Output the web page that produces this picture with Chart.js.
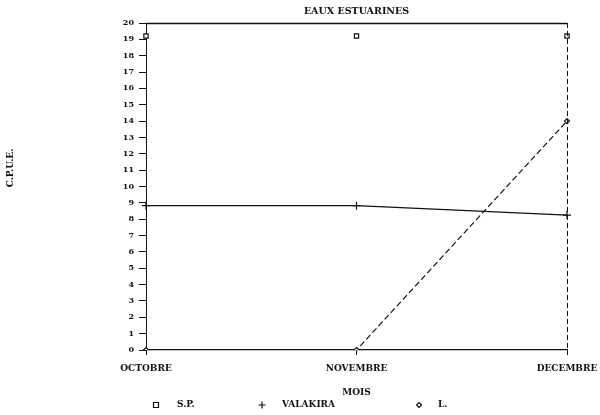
<!DOCTYPE html>
<html>
<head>
<meta charset="utf-8">
<script src="https://cdn.jsdelivr.net/npm/chart.js@4/dist/chart.umd.min.js"></script>
<style>
html,body{margin:0;padding:0;background:#fff;}
#c{display:block;}
</style>
</head>
<body>
<canvas id="c" width="600" height="415"></canvas>
<script>
const months = ['OCTOBRE', 'NOVEMBRE', 'DECEMBRE'];
const spValues = [19.2, 19.2, 19.2];
const valakiraValues = [8.83, 8.83, 8.25];
const lValues = [0, 0, 14];
const yMin = 0, yMax = 20, yStep = 1;
const titleText = 'EAUX ESTUARINES';
const xTitle = 'MOIS';
const yTitle = 'C.P.U.E.';

const FONT = '"DejaVu Serif", "Liberation Serif", serif';
const INK = '#111';

function drawSymbol(ctx, style, x, y, r) {
  ctx.save();
  ctx.strokeStyle = INK; ctx.lineWidth = 1.2; ctx.setLineDash([]);
  ctx.beginPath();
  if (style === 'rect') { ctx.fillStyle = '#fff'; ctx.rect(x - r, y - r, 2 * r, 2 * r); ctx.fill(); }
  else if (style === 'cross') { ctx.moveTo(x - r, y); ctx.lineTo(x + r, y); ctx.moveTo(x, y - r); ctx.lineTo(x, y + r); }
  else if (style === 'rectRot') { ctx.fillStyle = '#fff'; ctx.moveTo(x, y - r); ctx.lineTo(x + r, y); ctx.lineTo(x, y + r); ctx.lineTo(x - r, y); ctx.closePath(); ctx.fill(); }
  ctx.stroke();
  ctx.restore();
}

const decor = {
  id: 'decor',
  afterDraw(chart) {
    const ctx = chart.ctx, a = chart.chartArea;
    ctx.save();
    // title centred over the plot area
    ctx.fillStyle = INK; ctx.font = 'bold 9.5px ' + FONT;
    ctx.textAlign = 'center'; ctx.textBaseline = 'middle';
    ctx.fillText(titleText, (a.left + a.right) / 2, 12);
    // top frame line
    ctx.strokeStyle = INK; ctx.lineWidth = 1.3;
    ctx.beginPath(); ctx.moveTo(a.left, a.top + 0.5); ctx.lineTo(a.right, a.top + 0.5); ctx.stroke();
    // right dashed frame line
    ctx.lineWidth = 1; ctx.setLineDash([5, 3]);
    ctx.beginPath(); ctx.moveTo(a.right + 0.5, a.top); ctx.lineTo(a.right + 0.5, a.bottom); ctx.stroke();
    ctx.setLineDash([]);
    // y title (rotated)
    ctx.font = 'bold 9px ' + FONT;
    ctx.translate(11, 168); ctx.rotate(-Math.PI / 2);
    ctx.fillText(yTitle, 0, 0);
    ctx.restore();
    // legend
    ctx.save();
    ctx.fillStyle = INK; ctx.font = 'bold 9px ' + FONT; ctx.textBaseline = 'middle'; ctx.textAlign = 'left';
    const pos = [[156, 177], [262, 282], [419, 438]];
    chart.data.datasets.forEach((ds, i) => {
      drawSymbol(ctx, ds.pointStyle, pos[i][0], 405, ds.pointStyle === 'cross' ? 3.5 : 2.5);
      ctx.fillText(ds.label, pos[i][1], 405);
    });
    ctx.restore();
  }
};

new Chart(document.getElementById('c'), {
  type: 'line',
  data: {
    labels: months,
    datasets: [
      { label: 'S.P.', data: spValues, showLine: false, pointStyle: 'rect', pointRadius: 3,
        borderColor: INK, backgroundColor: '#fff', pointBorderWidth: 1.2 },
      { label: 'VALAKIRA', data: valakiraValues, pointStyle: 'cross', pointRadius: 4,
        borderColor: INK, backgroundColor: INK, borderWidth: 1.2, pointBorderWidth: 1.2, tension: 0 },
      { label: 'L.', data: lValues, pointStyle: 'rectRot', pointRadius: 2.5, borderDash: [6, 3],
        borderColor: INK, backgroundColor: '#fff', borderWidth: 1.2, pointBorderWidth: 1.2, tension: 0 }
    ]
  },
  options: {
    responsive: false,
    animation: false,
    layout: { padding: { left: 0, right: 33, top: 23, bottom: 17 } },
    plugins: {
      legend: { display: false },
      tooltip: { enabled: false },
      title: { display: false }
    },
    scales: {
      x: {
        type: 'category', offset: false,
        grid: { display: true, drawOnChartArea: false, drawTicks: true, tickLength: 5, color: INK },
        border: { display: true, color: INK, width: 1.3 },
        ticks: { color: INK, font: { family: FONT, size: 9, weight: 'bold' }, padding: 8, maxRotation: 0, autoSkip: false },
        title: { display: true, text: xTitle, color: INK, font: { family: FONT, size: 9, weight: 'bold' }, padding: { top: 6, bottom: 0 } },
        afterFit(s) { s.height = 48; s.paddingLeft = 0; s.paddingRight = 0; }
      },
      y: {
        min: yMin, max: yMax,
        grid: { display: true, drawOnChartArea: false, drawTicks: true, tickLength: 7, color: INK },
        border: { display: true, color: INK, width: 1, dash: [5, 3] },
        ticks: { stepSize: yStep, color: INK, font: { family: FONT, size: 8, weight: 'bold' }, padding: 5 },
        afterFit(s) { s.width = 146; }
      }
    }
  },
  plugins: [decor]
});
</script>
</body>
</html>
